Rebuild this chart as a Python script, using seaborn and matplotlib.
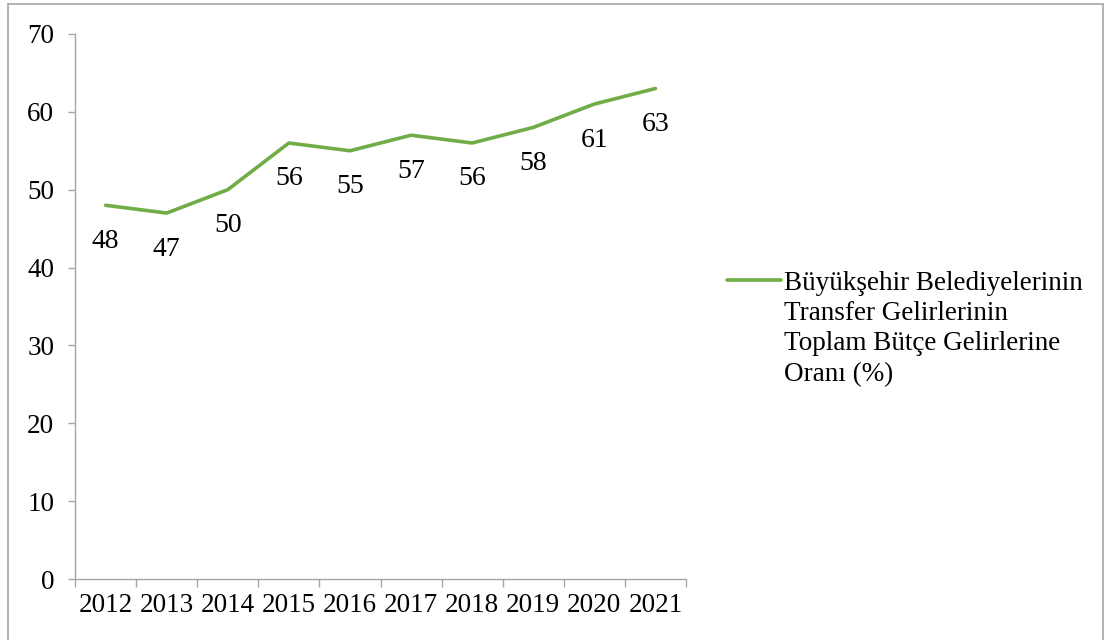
import matplotlib
matplotlib.use("Agg")
import matplotlib.pyplot as plt
import seaborn as sns
import pandas as pd
from matplotlib.lines import Line2D
from matplotlib.ticker import FixedLocator, NullFormatter

years = ["2012", "2013", "2014", "2015", "2016", "2017", "2018", "2019", "2020", "2021"]
values = [48, 47, 50, 56, 55, 57, 56, 58, 61, 63]
series_name = "Büyükşehir Belediyelerinin\nTransfer Gelirlerinin\nToplam Bütçe Gelirlerine\nOranı (%)"
y_ticks = [0, 10, 20, 30, 40, 50, 60, 70]

sns.set_theme(style="white")
plt.rcParams["font.family"] = ["Liberation Serif", "DejaVu Serif"]
plt.rcParams["text.color"] = "black"
plt.rcParams["xtick.color"] = "black"
plt.rcParams["ytick.color"] = "black"

df = pd.DataFrame({"year": years, "value": values})

fig = plt.figure(figsize=(11.05, 6.4), dpi=100)
ax = fig.add_axes([0.0679, 0.0953, 0.5529, 0.8516])

sns.lineplot(data=df, x="year", y="value", ax=ax, color="#70AD47", linewidth=2.6,
             label=series_name, sort=False)

ax.set_xlim(-0.5, len(years) - 0.5)
ax.set_ylim(0, 70)
ax.set_yticks(y_ticks)
ax.set_xlabel("")
ax.set_ylabel("")

# category boundary ticks (major) and centered labels (minor)
n = len(years)
ax.xaxis.set_major_locator(FixedLocator([i - 0.5 for i in range(n + 1)]))
ax.xaxis.set_major_formatter(NullFormatter())
ax.xaxis.set_minor_locator(FixedLocator(list(range(n))))
ax.set_xticklabels(years, minor=True)
ax.tick_params(axis="x", which="major", length=5.5, color="#a6a6a6", width=1, direction="out", bottom=True)
ax.tick_params(axis="x", which="minor", length=0, labelsize=19.5, pad=10, bottom=True, labelcolor="black")
ax.tick_params(axis="y", length=5, color="#a6a6a6", width=1, direction="out", labelsize=19.5, pad=10, left=True,
               labelcolor="black")

for s in ["top", "right"]:
    ax.spines[s].set_visible(False)
for s in ["left", "bottom"]:
    ax.spines[s].set_color("#a6a6a6")
    ax.spines[s].set_linewidth(1)

for i, v in enumerate(values):
    ax.annotate(str(v), (i, v), xytext=(0, -36), textcoords="offset pixels",
                ha="center", va="center", fontsize=20, color="black")

leg = ax.legend(loc="upper left", bbox_to_anchor=(0.658, 0.577), bbox_transform=fig.transFigure,
                frameon=False, fontsize=19.5, handlelength=2.0, handletextpad=0.1,
                labelspacing=0.2, borderaxespad=0, borderpad=0)
for t in leg.get_texts():
    t.set_linespacing(1.28)
    t.set_color("black")
# align handle with the first text line
for col in leg._legend_handle_box.get_children():
    for hp in col.get_children():
        hp.align = "top"

# outer frame
frame_kw = dict(color="#a6a6a6", linewidth=1.2, transform=fig.transFigure)
fig.add_artist(Line2D([0.0075, 0.0075], [0.0, 0.9935], **frame_kw))
fig.add_artist(Line2D([0.0075, 0.9982], [0.9935, 0.9935], **frame_kw))
fig.add_artist(Line2D([0.9982, 0.9982], [0.0, 0.9935], **frame_kw))

fig.savefig("out.png", dpi=100)
